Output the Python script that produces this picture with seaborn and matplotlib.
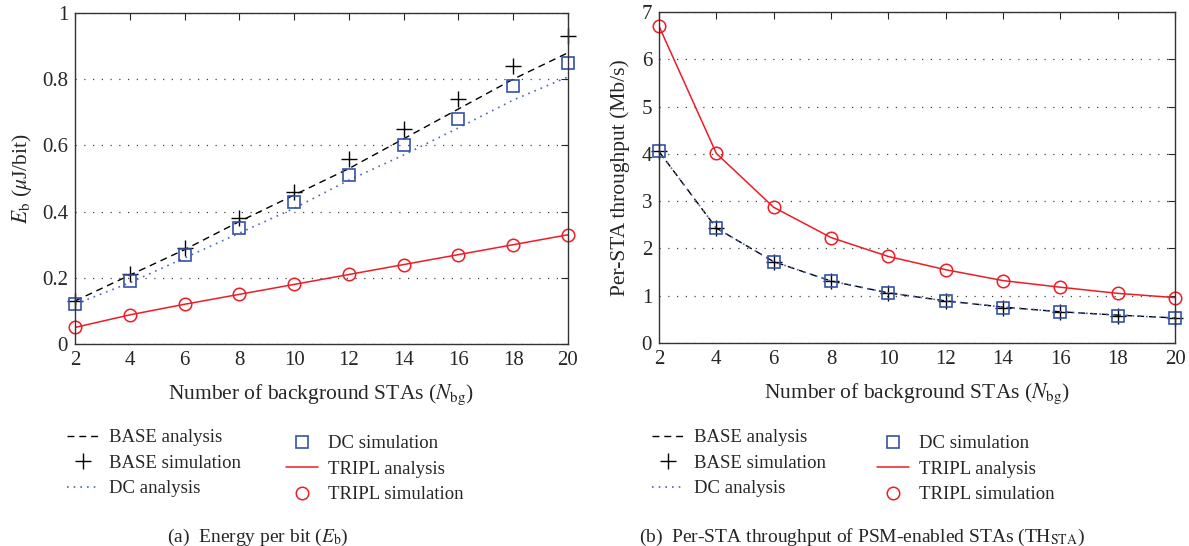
import numpy as np
import seaborn as sns
import matplotlib.pyplot as plt
from matplotlib.ticker import FormatStrFormatter, MultipleLocator

# x values: number of background STAs
n_bg = [2, 4, 6, 8, 10, 12, 14, 16, 18, 20]

# (a) energy per bit (uJ/bit)
eb_base_ana = [0.13, 0.208, 0.285, 0.37, 0.45, 0.53, 0.62, 0.71, 0.80, 0.88]
eb_base_sim = [0.13, 0.21, 0.29, 0.38, 0.46, 0.56, 0.65, 0.74, 0.84, 0.93]
eb_dc_ana = [0.12, 0.185, 0.26, 0.335, 0.41, 0.495, 0.571, 0.653, 0.737, 0.807]
eb_dc_sim = [0.12, 0.19, 0.27, 0.35, 0.43, 0.51, 0.60, 0.68, 0.78, 0.85]
eb_tripl_ana = [0.05, 0.088, 0.12, 0.15, 0.18, 0.21, 0.24, 0.27, 0.30, 0.33]
eb_tripl_sim = [0.05, 0.088, 0.12, 0.15, 0.18, 0.21, 0.24, 0.27, 0.30, 0.33]

# (b) per-STA throughput (Mb/s)
th_base_ana = [4.05, 2.43, 1.72, 1.31, 1.06, 0.89, 0.76, 0.66, 0.59, 0.53]
th_base_sim = [4.05, 2.43, 1.72, 1.31, 1.05, 0.88, 0.75, 0.65, 0.58, 0.53]
th_dc_ana = [4.05, 2.43, 1.72, 1.31, 1.06, 0.89, 0.76, 0.66, 0.59, 0.53]
th_dc_sim = [4.05, 2.43, 1.72, 1.31, 1.05, 0.88, 0.75, 0.65, 0.58, 0.53]
th_tripl_ana = [6.70, 4.01, 2.87, 2.23, 1.83, 1.55, 1.32, 1.18, 1.05, 0.96]
th_tripl_sim = [6.70, 4.01, 2.87, 2.23, 1.83, 1.55, 1.32, 1.18, 1.05, 0.96]

labels = ["BASE analysis", "BASE simulation", "DC analysis",
          "DC simulation", "TRIPL analysis", "TRIPL simulation"]

RED = "#ee1c25"
BLUE = "#3552a4"
DOTBLUE = "#4a66c8"

sns.set_style("white")
plt.rcParams["font.family"] = ["Liberation Serif", "DejaVu Serif"]
plt.rcParams["mathtext.fontset"] = "stix"

fig = plt.figure(figsize=(11.89, 5.46), dpi=100)
W, H = 1189, 546


def px_axes(l, t, r, b):
    return fig.add_axes([l / W, 1 - b / H, (r - l) / W, (b - t) / H])


def draw(ax, series):
    ba, bs, da, ds, ta, ts = series
    sns.lineplot(x=n_bg, y=ba, ax=ax, color="black", linestyle=(0, (5, 3.5)),
                 linewidth=1.0, label=labels[0])
    sns.lineplot(x=n_bg, y=bs, ax=ax, color="black", linestyle="", marker="+",
                 markersize=11, markeredgewidth=1.0, markeredgecolor="black",
                 label=labels[1], clip_on=False)
    sns.lineplot(x=n_bg, y=da, ax=ax, color=DOTBLUE, linestyle=(0, (1, 3)),
                 linewidth=1.2, label=labels[2])
    sns.lineplot(x=n_bg, y=ds, ax=ax, color=BLUE, linestyle="", marker="s",
                 markersize=8, markerfacecolor="none", markeredgecolor=BLUE,
                 markeredgewidth=1.2, label=labels[3], clip_on=False)
    sns.lineplot(x=n_bg, y=ta, ax=ax, color=RED, linestyle="-",
                 linewidth=1.1, label=labels[4])
    sns.lineplot(x=n_bg, y=ts, ax=ax, color=RED, linestyle="", marker="o",
                 markersize=9, markerfacecolor="none", markeredgecolor=RED,
                 markeredgewidth=1.1, label=labels[5], clip_on=False)
    if ax.get_legend() is not None:
        ax.get_legend().remove()
    ax.set_xlim(2, 20)
    ax.xaxis.set_major_locator(MultipleLocator(2))
    ax.tick_params(direction="in", top=True, right=True, length=5,
                   labelsize=15, width=0.8, pad=5)
    ax.yaxis.grid(True, linestyle=(0, (1, 6)), color="#444444", linewidth=0.9)
    ax.xaxis.grid(False)
    for s in ax.spines.values():
        s.set_color("#333333")
        s.set_linewidth(1.0)
    ax.set_xlabel("Number of background STAs ($N_\\mathrm{bg}$)", fontsize=15.5,
                  labelpad=9)


ax1 = px_axes(75, 13, 568, 344)
draw(ax1, [eb_base_ana, eb_base_sim, eb_dc_ana, eb_dc_sim, eb_tripl_ana, eb_tripl_sim])
ax1.set_ylim(0, 1)
ax1.yaxis.set_major_locator(MultipleLocator(0.2))
ax1.yaxis.set_major_formatter(FormatStrFormatter("%g"))
ax1.set_ylabel("$E_\\mathrm{b}$ ($\\mu$J/bit)", fontsize=15.5, labelpad=6)

ax2 = px_axes(659, 12, 1175, 343)
draw(ax2, [th_base_ana, th_base_sim, th_dc_ana, th_dc_sim, th_tripl_ana, th_tripl_sim])
ax2.set_ylim(0, 7)
ax2.yaxis.set_major_locator(MultipleLocator(1))
ax2.set_ylabel("Per-STA throughput (Mb/s)", fontsize=15.5, labelpad=8)


def legends(ax, x1, x2):
    h, l = ax.get_legend_handles_labels()
    kw = dict(frameon=False, fontsize=13.5, handlelength=1.7, handletextpad=0.55,
              labelspacing=0.45, borderpad=0, borderaxespad=0, loc="upper left",
              bbox_transform=fig.transFigure)
    fig.legend(h[:3], l[:3], bbox_to_anchor=(x1 / W, 1 - 429 / H), **kw)
    fig.legend(h[3:], l[3:], bbox_to_anchor=(x2 / W, 1 - 435 / H), **kw)


legends(ax1, 67, 286)
legends(ax2, 652, 877)

fig.text(258 / W, 1 - 537 / H, "(a)  Energy per bit ($E_\\mathrm{b}$)",
         ha="center", va="center", fontsize=14)
fig.text(862 / W, 1 - 537 / H,
         "(b)  Per-STA throughput of PSM-enabled STAs (TH$_\\mathrm{STA}$)",
         ha="center", va="center", fontsize=14)

fig.savefig("out.png", dpi=100)
